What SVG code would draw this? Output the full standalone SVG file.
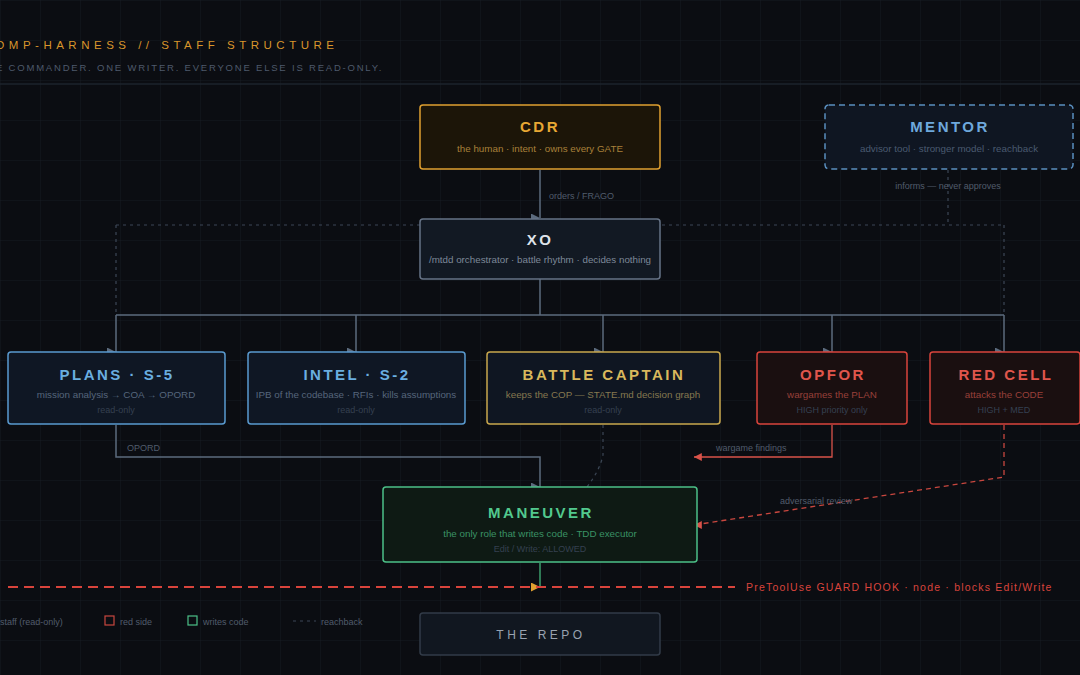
<svg xmlns="http://www.w3.org/2000/svg" width="1080" height="675" viewBox="0 0 1080 675">
<defs>
<pattern id="grid" width="40" height="40" patternUnits="userSpaceOnUse"><path d="M40 0H0V40" fill="none" stroke="#161b22" stroke-width="1"/></pattern>
<marker id="aR" viewBox="0 0 10 10" refX="10" refY="5" markerWidth="6" markerHeight="6" orient="0"><path d="M0 0L10 5L0 10z" fill="#5c6b7e"/></marker>
<marker id="aRed" viewBox="0 0 10 10" refX="0" refY="5" markerWidth="6" markerHeight="6" orient="0"><path d="M10 0L0 5L10 10z" fill="#d9534a"/></marker>
<marker id="aOr" viewBox="0 0 10 10" refX="10" refY="5" markerWidth="6" markerHeight="6" orient="0"><path d="M0 0L10 5L0 10z" fill="#e0a030"/></marker>
</defs>
<style>
text{font-family:"Liberation Sans",Arial,sans-serif}
.t{font-weight:bold;font-size:15px;letter-spacing:2.5px;text-anchor:middle}
.s{font-size:9.8px;text-anchor:middle}
.r{font-size:9px;text-anchor:middle;fill:#354050}
.lbl{font-size:9px;fill:#515c6c}
.ln{fill:none;stroke:#5c6b7e;stroke-width:1.5}
.dot{fill:none;stroke:#3c4756;stroke-width:1.2;stroke-dasharray:3 4}
</style>
<rect width="1080" height="675" fill="#0b0d12"/>
<rect width="1080" height="675" fill="url(#grid)"/>
<text x="-4" y="49" font-size="11.5" fill="#d9962c" letter-spacing="4.5">DMP-HARNESS // STAFF STRUCTURE</text>
<text x="-4" y="71" font-size="9.5" fill="#4e5a6b" letter-spacing="1.8">E COMMANDER. ONE WRITER. EVERYONE ELSE IS READ-ONLY.</text>
<line x1="0" y1="84" x2="1080" y2="84" stroke="#1c232d" stroke-width="1.5"/>

<g id="connectors">
<path class="dot" d="M948 170V225M116 225H1004M116 225V315M1004 225V315"/>
<path class="dot" d="M603 425V455Q600 470 587 487" stroke="#6a6040"/>
<path class="ln" d="M540 170V218" marker-end="url(#aR)"/>
<path class="ln" d="M540 279V315M116 315H1004M116 315V352M356 315V352M603 315V352M832 315V352M1004 315V352"/>
<path class="ln" d="M116 352H116" marker-end="url(#aR)"/>
<path class="ln" d="M356 352H356" marker-end="url(#aR)"/>
<path class="ln" d="M603 352H603" marker-end="url(#aR)"/>
<path class="ln" d="M832 352H832" marker-end="url(#aR)"/>
<path class="ln" d="M1004 352H1004" marker-end="url(#aR)"/>
<path class="ln" d="M116 425V457H540V487" marker-end="url(#aR)"/>
<path d="M832 425V457H694" fill="none" stroke="#d9534a" stroke-width="1.3" marker-end="url(#aRed)"/>
<path d="M1004 425V477L694 525" fill="none" stroke="#c9473f" stroke-width="1.3" stroke-dasharray="5 4" marker-end="url(#aRed)"/>
<path d="M540 563V587" fill="none" stroke="#3d9e6c" stroke-width="1.5" marker-end="url(#aOr)"/>
<line x1="8" y1="587" x2="735" y2="587" stroke="#d9443c" stroke-width="1.8" stroke-dasharray="10 6"/>
<text x="549" y="199" class="lbl">orders / FRAGO</text>
<text x="948" y="189" class="lbl" text-anchor="middle" fill="#4a5565">informs — never approves</text>
<text x="127" y="451" class="lbl">OPORD</text>
<text x="716" y="451" class="lbl" fill="#a8443c">wargame findings</text>
<text x="780" y="504" class="lbl" fill="#803833">adversarial review</text>
<text x="746" y="591" font-size="10.5" fill="#d9443c" letter-spacing="1.2">PreToolUse GUARD HOOK · node · blocks Edit/Write</text>
</g>

<g id="cdr"><rect x="420" y="105" width="240" height="64" rx="3" fill="#1c1508" stroke="#e0a030" stroke-width="1.5"/>
<text x="540" y="132" class="t" fill="#e8a834">CDR</text><text x="540" y="152" class="s" fill="#a8803a">the human · intent · owns every GATE</text></g>
<g id="mentor"><rect x="825" y="105" width="248" height="64" rx="4" fill="#0f1622" stroke="#5a8fbf" stroke-width="1.5" stroke-dasharray="6 4"/>
<text x="950" y="132" class="t" fill="#6ea8dc">MENTOR</text><text x="949" y="152" class="s" fill="#4a5a70">advisor tool · stronger model · reachback</text></g>
<g id="xo"><rect x="420" y="219" width="240" height="60" rx="3" fill="#121923" stroke="#667386" stroke-width="1.5"/>
<text x="540" y="245" class="t" fill="#dfe3ea">XO</text><text x="540" y="263" class="s" fill="#7d8898">/mtdd orchestrator · battle rhythm · decides nothing</text></g>
<g id="plans"><rect x="8" y="352" width="217" height="72" rx="3" fill="#0f1724" stroke="#5a9bd0" stroke-width="1.5"/>
<text x="117" y="380" class="t" fill="#6aaee0">PLANS · S-5</text><text x="116" y="398" class="s" fill="#56667c">mission analysis → COA → OPORD</text><text x="116" y="413" class="r">read-only</text></g>
<g id="intel"><rect x="248" y="352" width="217" height="72" rx="3" fill="#0f1724" stroke="#5a9bd0" stroke-width="1.5"/>
<text x="357" y="380" class="t" fill="#6aaee0">INTEL · S-2</text><text x="356" y="398" class="s" fill="#56667c">IPB of the codebase · RFIs · kills assumptions</text><text x="356" y="413" class="r">read-only</text></g>
<g id="battle-captain"><rect x="487" y="352" width="233" height="72" rx="3" fill="#0f1622" stroke="#c9a84e" stroke-width="1.5"/>
<text x="604" y="380" class="t" fill="#d9b85c">BATTLE CAPTAIN</text><text x="603" y="398" class="s" fill="#857850">keeps the COP — STATE.md decision graph</text><text x="603" y="413" class="r">read-only</text></g>
<g id="opfor"><rect x="757" y="352" width="150" height="72" rx="3" fill="#1a0f10" stroke="#d9443c" stroke-width="1.5"/>
<text x="833" y="380" class="t" fill="#e0564c">OPFOR</text><text x="832" y="398" class="s" fill="#98403a">wargames the PLAN</text><text x="832" y="413" class="r" fill="#683330">HIGH priority only</text></g>
<g id="red-cell"><rect x="930" y="352" width="150" height="72" rx="3" fill="#1a0f10" stroke="#d9443c" stroke-width="1.5"/>
<text x="1006" y="380" class="t" fill="#e0564c">RED CELL</text><text x="1004" y="398" class="s" fill="#98403a">attacks the CODE</text><text x="1004" y="413" class="r" fill="#683330">HIGH + MED</text></g>
<g id="maneuver"><rect x="383" y="487" width="314" height="75" rx="3" fill="#0e1a14" stroke="#4cc088" stroke-width="1.5"/>
<text x="541" y="518" class="t" fill="#52c98e">MANEUVER</text><text x="540" y="537" class="s" fill="#3a9265">the only role that writes code · TDD executor</text><text x="540" y="552" class="r" fill="#2c6448">Edit / Write: ALLOWED</text></g>
<g id="repo"><rect x="420" y="613" width="240" height="42" rx="3" fill="#111720" stroke="#323b48" stroke-width="1.5"/>
<text x="541" y="639" font-size="12" text-anchor="middle" fill="#9aa3b0" letter-spacing="3.5">THE REPO</text></g>

<g id="legend">
<text x="0" y="625" font-size="9" fill="#515c6c">staff (read-only)</text>
<rect x="105" y="616" width="9" height="9" fill="none" stroke="#c9473f" stroke-width="1.2"/><text x="120" y="625" font-size="9" fill="#515c6c">red side</text>
<rect x="188" y="616" width="9" height="9" fill="none" stroke="#4cc088" stroke-width="1.2"/><text x="203" y="625" font-size="9" fill="#515c6c">writes code</text>
<line x1="293" y1="621" x2="316" y2="621" stroke="#3c4756" stroke-width="1.2" stroke-dasharray="3 4"/><text x="321" y="625" font-size="9" fill="#515c6c">reachback</text>
</g>
</svg>
